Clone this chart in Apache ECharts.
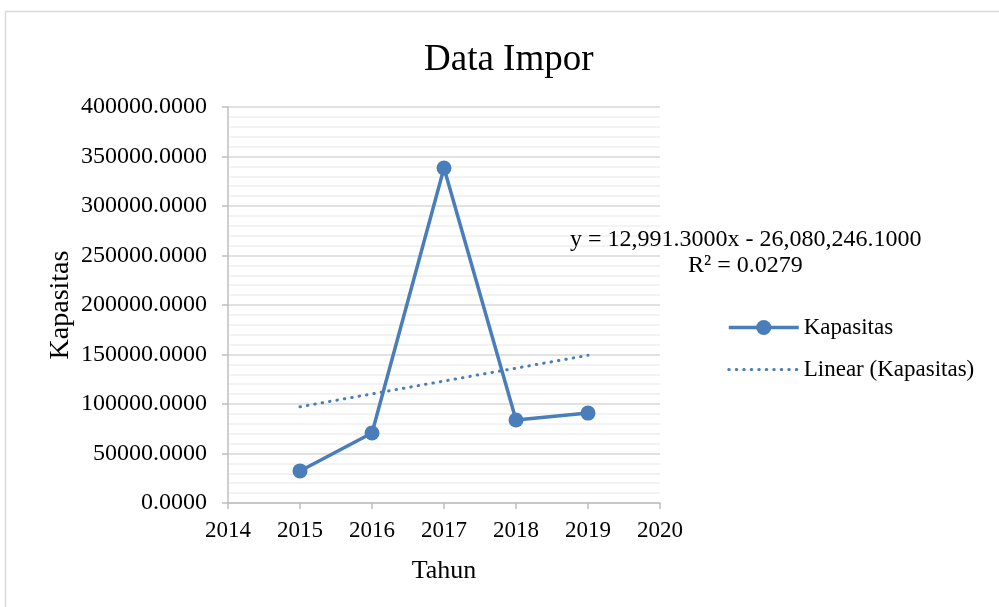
<!DOCTYPE html>
<html>
<head>
  <meta charset="utf-8">
  <title>Data Impor</title>
</head>
<body style="margin:0">
    <div id="main" style="width: 999px;height:607px;"></div>
</body>
<script src="https://cdn.jsdelivr.net/npm/echarts@6/dist/echarts.min.js"></script>
<script>
let myChart = echarts.init(document.querySelector('#main'))

// data
let years = [2015, 2016, 2017, 2018, 2019]
let kapasitas = [32400, 70700, 338400, 83800, 90800]
// trendline as printed on the chart
let trendSlope = 12991.3
let trendIntercept = -26080246.1
let trendYears = [2015, 2019]

let data = years.map((y, i) => [y, kapasitas[i]])
let trend = trendYears.map(y => [y, trendSlope * y + trendIntercept])

let font = '"Liberation Serif", "Times New Roman", serif'
let blue = '#4a7ebb'

let option = {
    animation: false,
    textStyle: { fontFamily: font, color: '#000' },
    title: {
        left: 419,
        top: 37,
        text: 'Data Impor',
        textStyle: { fontFamily: font, fontSize: 37, fontWeight: 'normal', color: '#000' }
    },
    grid: { left: 228, right: 339, top: 107, bottom: 104 },
    legend: {
        orient: 'vertical',
        left: 722,
        top: 311,
        itemWidth: 70,
        itemHeight: 19,
        itemGap: 19,
        textStyle: { fontFamily: font, fontSize: 23, color: '#000' },
        data: [
            { name: 'Kapasitas', lineStyle: { width: 3.5 } },
            {
                name: 'Linear (Kapasitas)',
                itemStyle: { color: 'rgba(0,0,0,0)', borderWidth: 0 },
                lineStyle: { width: 3, type: [0.5, 7], cap: 'round' }
            }
        ]
    },
    xAxis: {
        type: 'value',
        min: 2014,
        max: 2020,
        interval: 1,
        name: 'Tahun',
        nameLocation: 'middle',
        nameGap: 55,
        nameTextStyle: { fontFamily: font, fontSize: 26, color: '#000' },
        axisLine: { show: true, lineStyle: { color: '#bfbfbf', width: 1.5 } },
        axisTick: { show: true, length: 6, lineStyle: { color: '#bfbfbf', width: 1.5 } },
        axisLabel: { fontFamily: font, fontSize: 23, color: '#000', margin: 16, formatter: v => String(v) },
        splitLine: { show: false }
    },
    yAxis: {
        type: 'value',
        min: 0,
        max: 400000,
        interval: 50000,
        name: 'Kapasitas',
        nameLocation: 'middle',
        nameGap: 153,
        nameTextStyle: { fontFamily: font, fontSize: 28, color: '#000' },
        axisLine: { show: true, lineStyle: { color: '#bfbfbf', width: 1.5 } },
        axisTick: { show: true, length: 6, lineStyle: { color: '#bfbfbf', width: 1.5 } },
        axisLabel: {
            fontFamily: font, fontSize: 24, color: '#000', margin: 21,
            formatter: v => v.toFixed(4)
        },
        splitLine: { show: true, lineStyle: { color: '#d9d9d9', width: 1.5 } },
        minorTick: { show: false, splitNumber: 5 },
        minorSplitLine: { show: true, lineStyle: { color: '#efefef', width: 1.5 } }
    },
    graphic: [
        {
            type: 'rect',
            shape: { x: 5.5, y: 11.5, width: 1100, height: 700 },
            style: { fill: 'none', stroke: '#d9d9d9', lineWidth: 1.5 },
            z: -1
        },
        {
            type: 'text',
            left: 570,
            top: 228,
            z: 100,
            style: { text: 'y = 12,991.3000x - 26,080,246.1000', font: '24px ' + font, fill: '#000' }
        },
        {
            type: 'text',
            left: 688,
            top: 254,
            z: 100,
            style: { text: 'R² = 0.0279', font: '24px ' + font, fill: '#000' }
        }
    ],
    series: [
        {
            name: 'Kapasitas',
            type: 'line',
            symbol: 'circle',
            symbolSize: 15,
            itemStyle: { color: blue },
            lineStyle: { color: blue, width: 3.5 },
            data: data,
            z: 3
        },
        {
            name: 'Linear (Kapasitas)',
            type: 'line',
            symbol: 'none',
            itemStyle: { color: blue },
            lineStyle: { color: blue, width: 3, type: [0.5, 7], cap: 'round' },
            data: trend,
            z: 2
        }
    ]
};
myChart.setOption(option);
</script>
</html>
